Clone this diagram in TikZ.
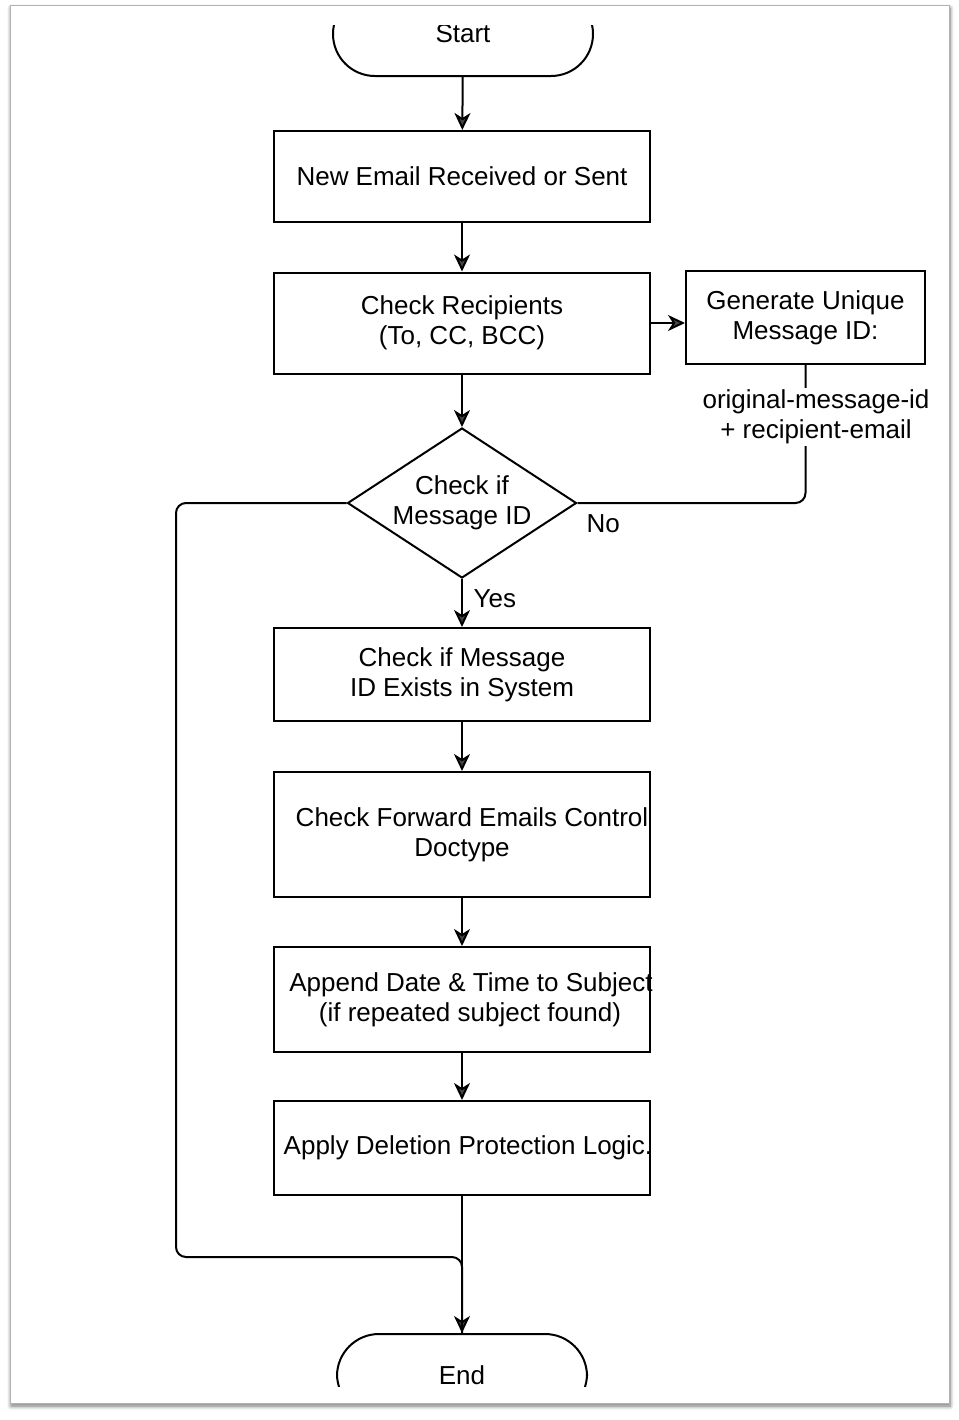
\documentclass[tikz,border=0pt]{standalone}
\usepackage{fontspec}
\setmainfont{Liberation Sans}
\usetikzlibrary{shapes.geometric,arrows.meta,shadows.blur}

\tikzset{
  flowbox/.style={draw, line width=1pt, minimum width=188pt, align=center, inner sep=2pt},
  decision/.style={draw, diamond, line width=1pt, aspect=1.53, minimum width=114.5pt, minimum height=75pt, inner sep=0pt, align=center},
  terminal/.style={draw, line width=1pt, rounded corners=21pt, align=center},
  arrow/.style={line width=1pt, -{Stealth[length=8.5pt,width=8pt,inset=2.5pt]}},
  link/.style={line width=1pt, rounded corners=5pt},
}

\begin{document}
\begin{tikzpicture}[x=0.5pt,y=-0.5pt,font=\fontsize{13}{15}\selectfont]
\useasboundingbox (0,0) rectangle (959,1420);
% page
\path[fill=white, draw=black!30, blur shadow={shadow xshift=0.5pt, shadow yshift=-1.5pt, shadow blur radius=2pt, shadow blur steps=8, shadow opacity=55}] (10,5) rectangle (949,1403);

% start and end, cut off by the edge
\begin{scope}
\clip (300,25) rectangle (650,140);
\node[terminal, minimum width=130pt, minimum height=42pt] (start) at (463,34) {Start};
\end{scope}
\begin{scope}
\clip (300,1300) rectangle (650,1386);
\node[terminal, minimum width=125pt, minimum height=41pt] (end) at (462,1375) {End};
\end{scope}

\node[flowbox, minimum height=45.5pt] (recv) at (462,176.5) {New Email Received or Sent};
\node[flowbox, minimum height=50.5pt] (rcpt) at (462,323) {Check Recipients\\(To, CC, BCC)};
\node[flowbox, minimum width=119.5pt, minimum height=46.5pt] (genid) at (805.5,317.5) {Generate Unique\\Message ID:};
\node[decision] (check) at (462,503) {Check if\\Message ID};
\node[flowbox, minimum height=46.5pt] (exists) at (462,674.5) {Check if Message\\ID Exists in System};
\node[flowbox, minimum height=62.5pt] (fwd) at (462,834.5) {\makebox[0pt]{\hspace*{10pt}Check Forward Emails Control}\\Doctype};
\node[flowbox, minimum height=52.5pt] (subj) at (462,999.5) {\makebox[0pt]{\hspace*{9pt}Append Date \& Time to Subject}\\\makebox[0pt]{\hspace*{8pt}(if repeated subject found)}};
\node[flowbox, minimum height=47pt] (protect) at (462,1148) {\makebox[0pt]{\hspace*{6pt}Apply Deletion Protection Logic.}};

\draw[arrow] (start) -- (recv);
\draw[arrow] (recv) -- (rcpt);
\draw[arrow] (rcpt) -- (check);
\draw[arrow] (rcpt.east) -- (rcpt.east -| genid.west);
\draw[arrow] (check) -- node[right=2pt, yshift=2pt] (yes) {Yes} (exists);
\draw[arrow] (exists) -- (fwd);
\draw[arrow] (fwd) -- (subj);
\draw[arrow] (subj) -- (protect);
\draw[arrow] (protect) -- (end);

% back into the diamond
\draw[link] (genid.south) |- (check.east);
\node[fill=white, inner sep=1pt, align=center] (idform) at (816,417) {original-message-id\\+ recipient-email};
\node[below right, xshift=1pt, yshift=-2.5pt] (no) at (check.east) {No};

% loop past the checks
\coordinate (loopturn) at (176,1257);
\draw[link] (check.west) -| (loopturn) -- (loopturn -| end.north) -- (end.north);
\end{tikzpicture}
\end{document}
